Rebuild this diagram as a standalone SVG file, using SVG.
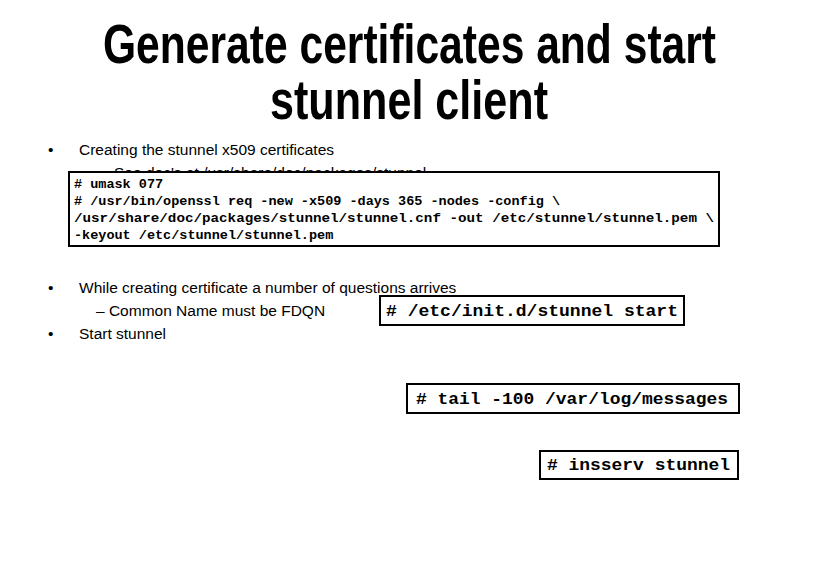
<svg xmlns="http://www.w3.org/2000/svg" width="818" height="578" viewBox="0 0 818 578">
<style>
.t{font-family:"Liberation Sans",Arial,sans-serif;font-weight:bold;font-size:55px;fill:#000}
.b{font-family:"Liberation Sans",Arial,sans-serif;font-size:15.5px;fill:#000}
.m{font-family:"Liberation Mono","Courier New",monospace;font-weight:bold;fill:#000}
.box{fill:#fff;stroke:#000;stroke-width:2}
</style>
<rect width="818" height="578" fill="#fff"/>
<g id="title">
<text class="t" x="103" y="63" textLength="613" lengthAdjust="spacingAndGlyphs">Generate certificates and start</text>
<text class="t" x="270" y="119" textLength="278" lengthAdjust="spacingAndGlyphs">stunnel client</text>
</g>
<g id="bullets">
<text class="b" x="48" y="155">•</text>
<text class="b" x="79" y="155">Creating the stunnel x509 certificates</text>
<text class="b" x="114" y="178">See doc's at /usr/share/doc/packages/stunnel</text>
<text class="b" x="48" y="293">•</text>
<text class="b" x="79" y="293">While creating certificate a number of questions arrives</text>
<text class="b" x="96" y="316">–  Common Name must be FDQN</text>
<text class="b" x="48" y="339">•</text>
<text class="b" x="79" y="339">Start stunnel</text>
</g>
<g id="cert-box">
<rect class="box" x="69" y="172" width="650" height="74"/>
<text class="m" font-size="13.5" x="74" y="188">
<tspan x="74" y="188"># umask 077</tspan>
<tspan x="74" y="205"># /usr/bin/openssl req -new -x509 -days 365 -nodes -config \</tspan>
<tspan x="74" y="222" textLength="640" lengthAdjust="spacingAndGlyphs">/usr/share/doc/packages/stunnel/stunnel.cnf -out /etc/stunnel/stunnel.pem \</tspan>
<tspan x="74" y="239">-keyout /etc/stunnel/stunnel.pem</tspan>
</text>
</g>
<g id="start-box">
<rect class="box" x="380" y="296" width="304" height="29"/>
<text class="m" font-size="16" x="386" y="316" textLength="292" lengthAdjust="spacingAndGlyphs"># /etc/init.d/stunnel start</text>
</g>
<g id="tail-box">
<rect class="box" x="407" y="384" width="332" height="29"/>
<text class="m" font-size="16" x="416" y="404" textLength="312" lengthAdjust="spacingAndGlyphs"># tail -100 /var/log/messages</text>
</g>
<g id="insserv-box">
<rect class="box" x="540" y="451" width="198" height="28"/>
<text class="m" font-size="16" x="547" y="470" textLength="183" lengthAdjust="spacingAndGlyphs"># insserv stunnel</text>
</g>
<g id="connectors"/>
</svg>
